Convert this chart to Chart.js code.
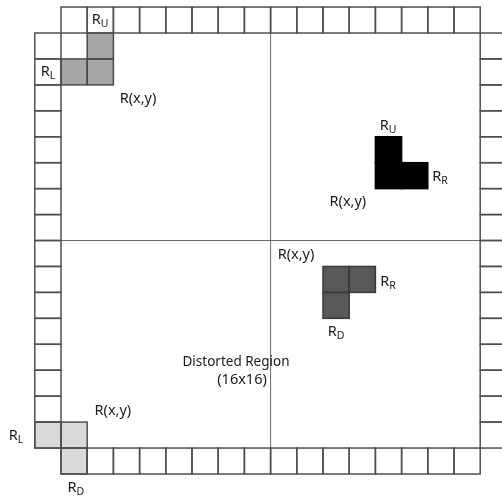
<!DOCTYPE html>
<html>
<head>
<meta charset="utf-8">
<script src="https://cdn.jsdelivr.net/npm/chart.js@4.4.0/dist/chart.umd.min.js"></script>
<style>
    body { margin: 0; background: #fff; overflow: hidden; }
    canvas { display: block; }
</style>
</head>
<body>
<canvas id="diagram" width="502" height="500"></canvas>
<script>
// cell indices along one side of the 16x16 distorted region
const sideCells = [0, 1, 2, 3, 4, 5, 6, 7, 8, 9, 10, 11, 12, 13, 14, 15];
const regionSize = 16;
const halfRegion = 8;

// shaded neighbourhoods, [column, row] of each cell
const upperLeftCells = [[1, 0], [0, 1], [1, 1]];
const upperRightCells = [[12, 4], [12, 5], [13, 5]];
const lowerRightCells = [[10, 9], [11, 9], [10, 10]];
const lowerLeftCells = [[-1, 15], [0, 15], [0, 16]];

// labels: main text, subscript, anchor in cell units
const labelTexts = ["R", "R", "R(x,y)", "R", "R", "R(x,y)", "R(x,y)", "R", "R", "Distorted Region", "(16x16)", "R(x,y)", "R", "R"];
const labelSubs = ["U", "L", "", "U", "R", "", "", "R", "D", "", "", "", "L", "D"];
const labelCols = [1.49, -0.5, 2.94, 12.48, 14.47, 10.95, 8.97, 12.48, 10.5, 6.68, 6.91, 1.98, -1.72, 0.57];
const labelRows = [-0.5, 1.5, 2.55, 3.58, 5.55, 6.52, 8.57, 9.6, 11.53, 12.68, 13.38, 14.55, 15.53, 17.55];

const lineColor = "#505050";

const diagramPlugin = {
    id: "diagram",
    afterDraw(chart) {
        const ctx = chart.ctx;
        const xs = chart.scales.x;
        const ys = chart.scales.y;

        function cellRect(c, r) {
            const x0 = xs.getPixelForValue(c);
            const x1 = xs.getPixelForValue(c + 1);
            const y0 = ys.getPixelForValue(r);
            const y1 = ys.getPixelForValue(r + 1);
            return [x0, y0, x1 - x0, y1 - y0];
        }

        function fillCells(cells, color) {
            ctx.fillStyle = color;
            cells.forEach(([c, r]) => {
                const [x, y, w, h] = cellRect(c, r);
                ctx.fillRect(x, y, w, h);
            });
        }

        function strokeCells(cells, color, width) {
            ctx.strokeStyle = color;
            ctx.lineWidth = width;
            cells.forEach(([c, r]) => {
                const [x, y, w, h] = cellRect(c, r);
                ctx.strokeRect(x, y, w, h);
            });
        }

        ctx.save();

        // border cells around the region
        const borderCells = [];
        sideCells.forEach(i => {
            borderCells.push([i, -1]);
            borderCells.push([-1, i]);
            borderCells.push([regionSize, i]);
            borderCells.push([i, regionSize]);
        });

        // quadrant dividers
        ctx.strokeStyle = "#6a6a6a";
        ctx.lineWidth = 1;
        ctx.beginPath();
        ctx.moveTo(xs.getPixelForValue(halfRegion), ys.getPixelForValue(0));
        ctx.lineTo(xs.getPixelForValue(halfRegion), ys.getPixelForValue(regionSize));
        ctx.moveTo(xs.getPixelForValue(0), ys.getPixelForValue(halfRegion));
        ctx.lineTo(xs.getPixelForValue(regionSize), ys.getPixelForValue(halfRegion));
        ctx.stroke();

        fillCells(upperLeftCells, "#a6a6a6");
        fillCells(upperRightCells, "#000000");
        fillCells(lowerRightCells, "#595959");
        fillCells(lowerLeftCells, "#d9d9d9");

        strokeCells(borderCells, lineColor, 1.5);
        strokeCells(upperLeftCells, "#4a4a4a", 1.5);
        strokeCells(upperRightCells, "#000000", 1.5);
        strokeCells(lowerRightCells, "#3a3a3a", 1.5);
        strokeCells(lowerLeftCells, lineColor, 1.5);

        // labels
        ctx.fillStyle = "#1a1a1a";
        ctx.textBaseline = "middle";
        labelTexts.forEach((text, i) => {
            const sub = labelSubs[i];
            const mainFont = text.length > 7 ? "13.5px 'Noto Sans'" : "14.5px 'Noto Sans'";
            const subFont = "10.5px 'Noto Sans'";
            const cx = xs.getPixelForValue(labelCols[i]);
            const cy = ys.getPixelForValue(labelRows[i]);
            ctx.font = mainFont;
            const mainW = ctx.measureText(text).width;
            ctx.font = subFont;
            const subW = sub ? ctx.measureText(sub).width : 0;
            const left = cx - (mainW + subW) / 2;
            ctx.textAlign = "left";
            ctx.font = mainFont;
            ctx.fillText(text, left, cy);
            if (sub) {
                ctx.font = subFont;
                ctx.fillText(sub, left + mainW, cy + 4);
            }
        });

        ctx.restore();
    }
};

new Chart(document.getElementById("diagram"), {
    type: "scatter",
    data: { datasets: [{ data: [] }] },
    options: {
        responsive: false,
        animation: false,
        layout: { padding: 0 },
        plugins: { legend: { display: false }, tooltip: { enabled: false } },
        scales: {
            x: { type: "linear", display: false, min: -2.328, max: 16.832 },
            y: { type: "linear", display: false, reverse: true, min: -1.272, max: 18.003 }
        }
    },
    plugins: [diagramPlugin]
});
</script>
</body>
</html>
